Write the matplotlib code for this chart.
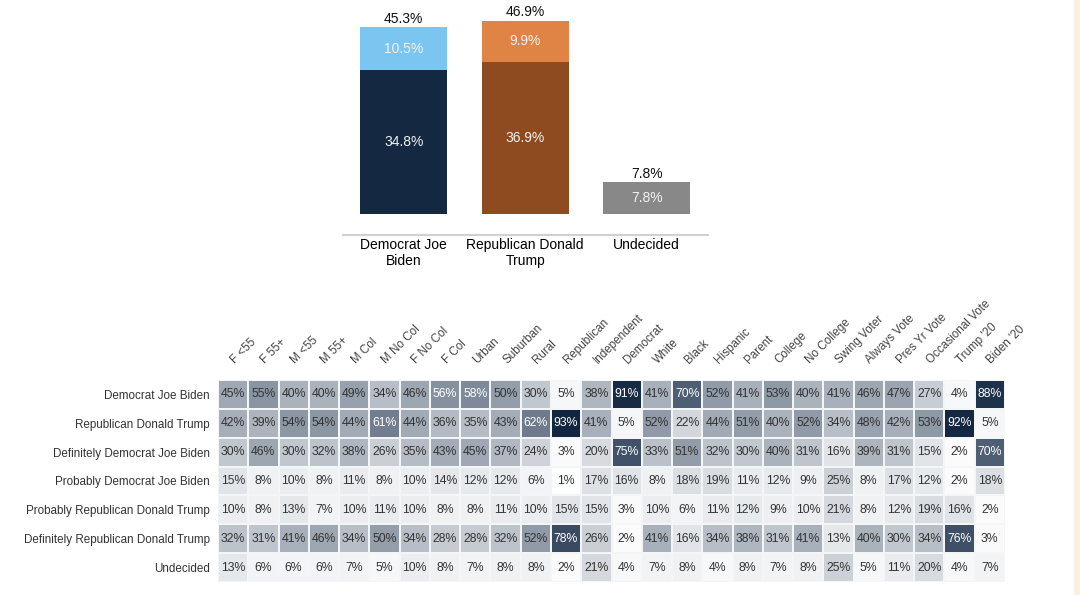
import matplotlib.pyplot as plt
import numpy as np
from matplotlib.colors import LinearSegmentedColormap
from matplotlib.patches import Rectangle

plt.rcParams['font.family'] = ['Liberation Sans', 'DejaVu Sans']

# --- bar chart data
candidates = ['Democrat Joe\nBiden', 'Republican Donald\nTrump', 'Undecided']
definitely = [34.8, 36.9, 7.8]
probably = [10.5, 9.9, 0.0]
totals = [45.3, 46.9, 7.8]

# --- heatmap data
groups = ['F <55', 'F 55+', 'M <55', 'M 55+', 'M Col', 'M No Col', 'F No Col', 'F Col',
          'Urban', 'Suburban', 'Rural', 'Republican', 'Independent', 'Democrat', 'White',
          'Black', 'Hispanic', 'Parent', 'College', 'No College', 'Swing Voter',
          'Always Vote', 'Pres Yr Vote', 'Occasional Vote', "Trump '20", "Biden '20"]
answers = ['Democrat Joe Biden', 'Republican Donald Trump', 'Definitely Democrat Joe Biden',
           'Probably Democrat Joe Biden', 'Probably Republican Donald Trump',
           'Definitely Republican Donald Trump', 'Undecided']
biden = [45, 55, 40, 40, 49, 34, 46, 56, 58, 50, 30, 5, 38, 91, 41, 70, 52, 41, 53, 40, 41, 46, 47, 27, 4, 88]
trump = [42, 39, 54, 54, 44, 61, 44, 36, 35, 43, 62, 93, 41, 5, 52, 22, 44, 51, 40, 52, 34, 48, 42, 53, 92, 5]
def_biden = [30, 46, 30, 32, 38, 26, 35, 43, 45, 37, 24, 3, 20, 75, 33, 51, 32, 30, 40, 31, 16, 39, 31, 15, 2, 70]
prob_biden = [15, 8, 10, 8, 11, 8, 10, 14, 12, 12, 6, 1, 17, 16, 8, 18, 19, 11, 12, 9, 25, 8, 17, 12, 2, 18]
prob_trump = [10, 8, 13, 7, 10, 11, 10, 8, 8, 11, 10, 15, 15, 3, 10, 6, 11, 12, 9, 10, 21, 8, 12, 19, 16, 2]
def_trump = [32, 31, 41, 46, 34, 50, 34, 28, 28, 32, 52, 78, 26, 2, 41, 16, 34, 38, 31, 41, 13, 40, 30, 34, 76, 3]
undecided = [13, 6, 6, 6, 7, 5, 10, 8, 7, 8, 8, 2, 21, 4, 7, 8, 4, 8, 7, 8, 25, 5, 11, 20, 4, 7]
M = np.array([biden, trump, def_biden, prob_biden, prob_trump, def_trump, undecided])

fig = plt.figure(figsize=(10.8, 5.95), dpi=100)
fig.patches.append(Rectangle((1074 / 1080, 0), 6 / 1080, 1, transform=fig.transFigure,
                             color='#fcefe0', zorder=0))

# ---------- stacked bars
ax = fig.add_axes([343 / 1080, (595 - 214) / 595, 364.5 / 1080, 206.5 / 595])
x = np.arange(len(candidates))
dark = ['#142841', '#8e4b20', '#888888']
light = ['#7bc5f1', '#e08446', '#888888']
ax.bar(x, definitely, width=0.715, color=dark)
ax.bar(x, probably, bottom=definitely, width=0.715, color=light)
for i in range(len(x)):
    ax.text(x[i], definitely[i] / 2, f'{definitely[i]:.1f}%', ha='center', va='center',
            color='#f2f2f2', fontsize=10)
    if probably[i] > 0:
        ax.text(x[i], definitely[i] + probably[i] / 2, f'{probably[i]:.1f}%', ha='center',
                va='center', color='#f2f2f2', fontsize=10)
    ax.text(x[i], totals[i] + 0.2, f'{totals[i]:.1f}%', ha='center', va='bottom',
            color='#111111', fontsize=10)
ax.set_xlim(-0.5, 2.5)
ax.set_ylim(0, 50)
ax.set_xticks(x)
ax.set_xticklabels(candidates, fontsize=10, color='#222222', linespacing=1.1)
ax.tick_params(axis='x', length=0, pad=2)
ax.set_yticks([])
for s in ['top', 'right', 'left']:
    ax.spines[s].set_visible(False)
ax.spines['bottom'].set_position(('outward', 15))
ax.spines['bottom'].set_color('#d0d0d0')
ax.spines['bottom'].set_linewidth(1.5)

# ---------- heatmap
cmap = LinearSegmentedColormap.from_list('navy', [
    (0.00, '#ffffff'), (0.05, '#f5f6f8'), (0.22, '#d3d7dd'), (0.40, '#aab2bc'),
    (0.55, '#8a95a3'), (0.70, '#4f5e73'), (0.93, '#132640'), (1.00, '#0d1f3a')])
hx = fig.add_axes([218 / 1080, 13 / 595, 787 / 1080, 202 / 595])
hx.pcolormesh(M, cmap=cmap, vmin=0, vmax=100, edgecolors='#f4f5f7', linewidth=0.3)
hx.set_xlim(0, M.shape[1])
hx.set_ylim(M.shape[0], 0)
for r in range(M.shape[0]):
    for c in range(M.shape[1]):
        v = M[r, c]
        hx.text(c + 0.5, r + 0.5, f'{v}%', ha='center', va='center', fontsize=8.8,
                color='white' if v > 55 else '#333333')
hx.set_yticks(np.arange(M.shape[0]) + 0.5)
hx.set_yticklabels(answers, fontsize=8.4, color='#333333')
hx.xaxis.tick_top()
hx.set_xticks(np.arange(M.shape[1]) + 0.62)
hx.set_xticklabels(groups, rotation=45, ha='left', va='bottom', rotation_mode='anchor',
                   fontsize=8.4, color='#444444')
hx.tick_params(axis='x', length=0, pad=10)
hx.tick_params(axis='y', length=0, pad=6)
for s in hx.spines.values():
    s.set_visible(False)

fig.savefig('out.png', dpi=100)
